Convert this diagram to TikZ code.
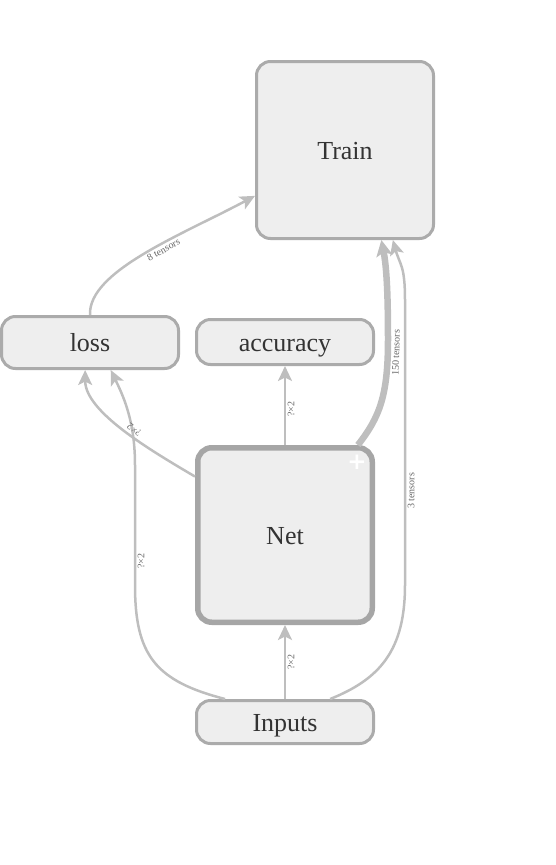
\documentclass[tikz,border=0pt]{standalone}
\usepackage{fontspec}
\setmainfont{Liberation Serif}
\newfontfamily\plusfont{DejaVu Sans}
\usetikzlibrary{arrows.meta}
\definecolor{opfill}{HTML}{EEEEEE}
\definecolor{opline}{HTML}{ABABAB}
\definecolor{metaline}{HTML}{A6A6A6}
\definecolor{edgeline}{HTML}{BEBEBE}
\definecolor{optext}{HTML}{333333}
\definecolor{lbltext}{HTML}{666666}

\begin{document}
\begin{tikzpicture}[x=1pt,y=-1pt,
  op/.style={draw=opline,fill=opfill,line width=3pt,rounded corners=14pt,inner sep=0pt,
    minimum width=177pt,text=optext,font=\fontsize{26}{26}\selectfont,text height=19pt,text depth=1pt},
  meta/.style={op,draw=metaline,line width=5.5pt,minimum width=174.5pt,minimum height=174.5pt},
  flow/.style={draw=edgeline,line width=2.5pt,-{Stealth[length=15pt,width=14pt,inset=3.5pt]}},
  lbl/.style={font=\fontsize{10}{10}\selectfont,text=lbltext,inner sep=1.5pt,sloped,allow upside down,below}]

\useasboundingbox (0,0) rectangle (555,865);

\node[op,minimum height=177pt] (Train) at (345,150) {Train};
\node[op,minimum height=52pt] (Loss) at (90,342.5) {loss};
\node[op,minimum height=45pt] (Accuracy) at (285,342) {accuracy};
\node[meta] (Net) at (285,535) {Net};
\node[op,minimum height=43pt] (Inputs) at (285,722) {Inputs};
\node[text=white,font=\plusfont\bfseries\fontsize{23}{23}\selectfont,inner sep=0pt] (NetPlus) at (357,462) {+};

\draw[flow] (Loss.north) .. controls +(-2,-44) and +(-73,39) .. node[lbl,pos=.58] {8 tensors} (Train.207);
\draw[flow,line width=6.5pt,-{Stealth[length=16pt,width=16pt,inset=3.5pt]}] (Net.51) .. controls +(22,-28) and +(0,55) .. node[lbl,pos=.92] {150 tensors} (388,340)
  .. controls +(0,-50) and +(5,26) .. (Train.-68);
\draw[flow] (Inputs.27) .. controls +(50,-20) and +(0,65) .. (405,585)
  -- node[lbl,pos=.33] {3 tensors} (405,300) .. controls +(0,-35) and +(7,25) .. (Train.-62);
\draw[flow] (Inputs.159) .. controls +(-70,-18) and +(0,70) .. (135,585)
  -- node[lbl,pos=.2] {?×2} (135,465) .. controls +(0,-45) and +(12,25) .. (Loss.-53);
\draw[flow] (Net.147) .. controls +(-44,-26) and +(0,42) .. node[lbl,pos=.45] {?×2} (Loss.-100);
\draw[flow] (Net.north) -- node[lbl,pos=.45] {?×2} (Accuracy.south);
\draw[flow] (Inputs.north) -- node[lbl,pos=.5] {?×2} (Net.south);

\end{tikzpicture}
\end{document}
